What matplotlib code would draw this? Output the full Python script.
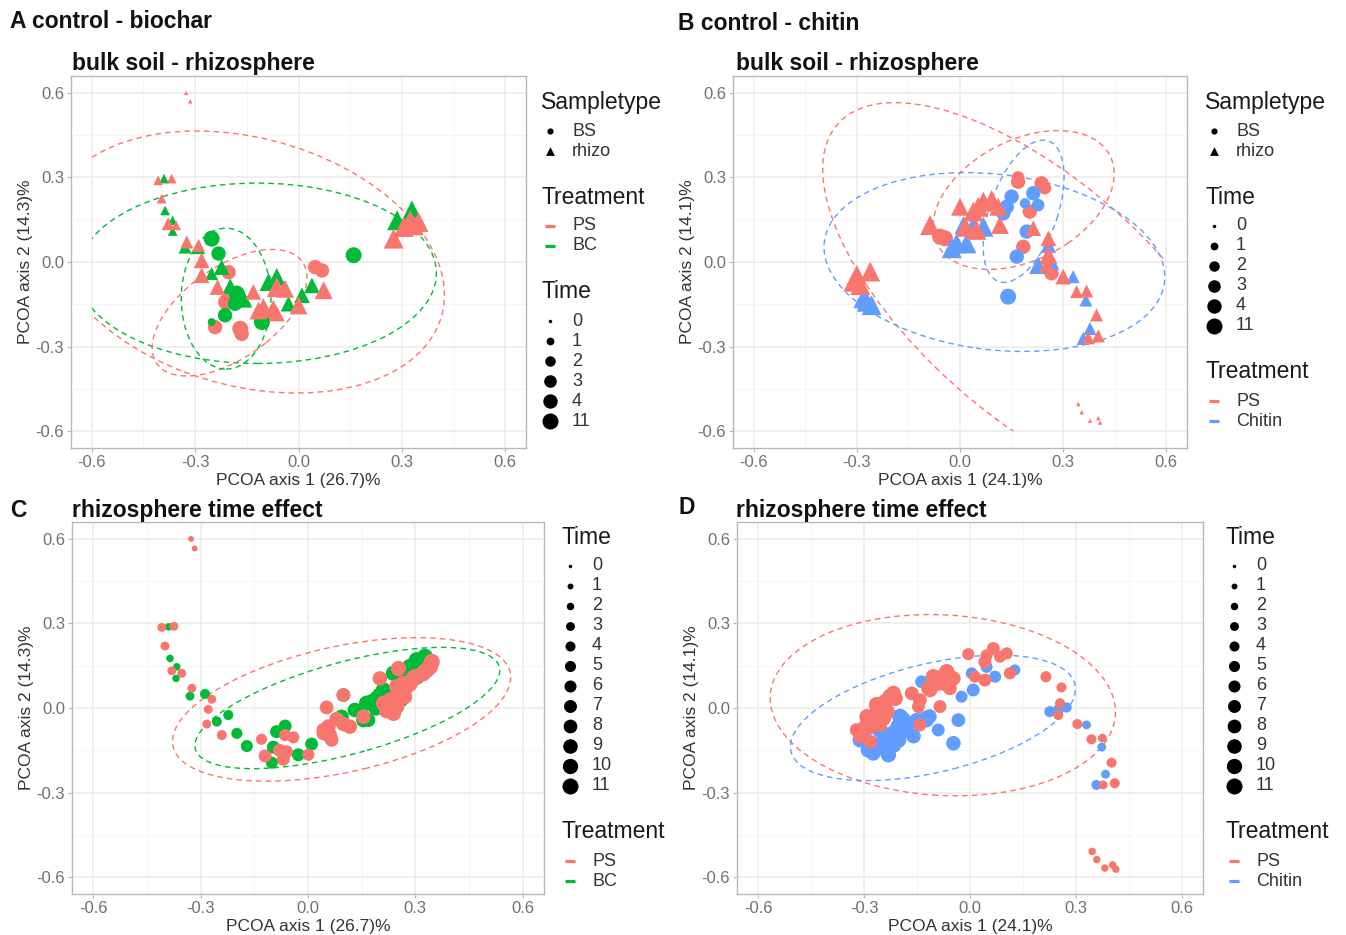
import matplotlib
matplotlib.use('Agg')
import matplotlib.pyplot as plt
from matplotlib.patches import Ellipse, Rectangle

plt.rcParams['font.family'] = ['Liberation Sans', 'DejaVu Sans']

W, H = 1346, 935
RED, GREEN, BLUE = '#F8766D', '#00BA38', '#619CFF'

# ---------------- data ----------------
time_ab = [0, 1, 2, 3, 4, 11]
time_cd = list(range(12))

# A: control - biochar, bulk soil + rhizosphere
a_ps_rh_x = [-0.326, -0.314, -0.407, -0.368, -0.397, -0.378, -0.355, -0.324, -0.290, -0.281, -0.281, -0.235, -0.131,
             -0.063, -0.039, -0.102, -0.116, -0.073, -0.063, 0.000, 0.073, 0.276, 0.305, 0.334, 0.324, 0.348]
a_ps_rh_y = [0.600, 0.570, 0.290, 0.296, 0.225, 0.136, 0.130, 0.071, 0.059, 0.006, -0.047, -0.089, -0.106,
             -0.089, -0.095, -0.160, -0.172, -0.166, -0.183, -0.154, -0.100, 0.083, 0.124, 0.130, 0.148, 0.142]
a_ps_rh_t = [0, 0, 1, 1, 1, 2, 1, 2, 2, 3, 3, 3, 3, 11, 4, 4, 4, 4, 3, 4, 4, 11, 11, 11, 11, 11]

a_bc_rh_x = [-0.390, -0.387, -0.365, -0.365, -0.329, -0.290, -0.223, -0.252, -0.198, -0.087, -0.063, -0.029,
             0.010, 0.039, -0.160, 0.286, 0.329]
a_bc_rh_y = [0.296, 0.183, 0.148, 0.110, 0.053, 0.051, -0.018, -0.041, -0.086, -0.071, -0.053, -0.148,
             -0.118, -0.083, -0.130, 0.148, 0.183]
a_bc_rh_t = [1, 1, 1, 1, 2, 2, 3, 2, 3, 4, 4, 3, 3, 3, 4, 11, 11]

a_ps_bs_x = [-0.203, -0.210, -0.242, -0.169, -0.165, 0.048, 0.068]
a_ps_bs_y = [-0.036, -0.142, -0.231, -0.237, -0.255, -0.018, -0.030]
a_ps_bs_t = [4, 11, 4, 11, 4, 4, 4]

a_bc_bs_x = [-0.252, -0.232, -0.179, -0.174, -0.184, -0.213, -0.252, -0.106, 0.160]
a_bc_bs_y = [0.083, 0.030, -0.112, -0.136, -0.148, -0.189, -0.213, -0.213, 0.024]
a_bc_bs_t = [11, 4, 11, 11, 4, 4, 1, 11, 11]

# B: control - chitin, bulk soil + rhizosphere
b_ps_bs_x = [0.169, 0.237, 0.247, 0.203, -0.044, -0.058, 0.184, 0.266, 0.169]
b_ps_bs_y = [0.285, 0.279, 0.262, 0.179, 0.084, 0.090, 0.054, -0.040, 0.300]
b_ps_bs_t = [4, 4, 3, 4, 11, 11, 4, 4, 3]

b_ch_bs_x = [0.150, 0.213, 0.189, 0.227, 0.136, 0.126, 0.194, 0.165, 0.140]
b_ch_bs_y = [0.232, 0.244, 0.208, 0.202, 0.196, 0.173, 0.108, 0.019, -0.123]
b_ch_bs_t = [4, 4, 2, 3, 4, 4, 4, 4, 11]

b_ps_rh_x = [0.068, 0.092, 0.053, 0.039, 0.111, 0.000, -0.087, 0.015, 0.048, 0.116,
             0.213, 0.257, 0.257, 0.252, 0.300, 0.339, 0.368, 0.397, 0.373, 0.402,
             -0.310, -0.290, -0.261, -0.300, 0.344, 0.354, 0.378, 0.402, 0.407]
b_ps_rh_y = [0.214, 0.220, 0.196, 0.179, 0.196, 0.196, 0.131, 0.125, 0.114, 0.131,
             0.120, 0.084, 0.025, -0.011, -0.052, -0.105, -0.103, -0.188, -0.269, -0.262,
             -0.070, -0.082, -0.034, -0.046, -0.504, -0.533, -0.563, -0.554, -0.570]
b_ps_rh_t = [11, 11, 11, 11, 4, 4, 11, 11, 11, 4, 3, 3, 4, 3, 3, 2, 2, 2, 2, 2,
             11, 11, 11, 11, 0, 0, 0, 0, 0]

b_ch_rh_x = [0.010, 0.068, 0.039, -0.010, -0.024, 0.019, 0.227, 0.266, 0.329, 0.366, 0.378, 0.358,
             -0.271, -0.257, -0.281, 0.257]
b_ch_rh_y = [0.131, 0.125, 0.131, 0.066, 0.049, 0.066, -0.011, 0.001, -0.052, -0.135, -0.236, -0.271,
             -0.141, -0.153, -0.129, 0.060]
b_ch_rh_t = [4, 11, 4, 11, 11, 11, 4, 3, 2, 2, 2, 2, 11, 11, 11, 3]

# C: rhizosphere time effect, control - biochar
c_ps_x = [-0.327, -0.317, -0.409, -0.375, -0.400, -0.381, -0.353, -0.325, -0.269, -0.279,
          -0.283, -0.241, -0.130, -0.064, -0.041, -0.120, -0.069, -0.060, 0.001, 0.052,
          0.099, 0.043, 0.057, 0.066, 0.099, 0.155, 0.229, 0.248, 0.239, 0.248,
          0.266, 0.201, 0.253, 0.341, 0.332, 0.346, 0.276, 0.270, 0.220, 0.300, 0.080, -0.080,
          0.211, 0.229, 0.248, 0.267, 0.285, 0.294, 0.322, 0.043, 0.062, 0.117]
c_ps_y = [0.600, 0.566, 0.286, 0.290, 0.220, 0.132, 0.123, 0.070, 0.031, -0.005,
          -0.057, -0.096, -0.111, -0.096, -0.104, -0.170, -0.182, -0.155, -0.166, 0.002,
          0.046, -0.090, -0.066, -0.113, -0.057, -0.031, 0.028, 0.005, -0.019, 0.076,
          0.087, 0.105, 0.140, 0.146, 0.135, 0.164, 0.076, 0.040, -0.010, 0.110, -0.040, -0.150,
          0.017, -0.007, 0.040, 0.064, 0.087, 0.105, 0.123, -0.078, -0.096, -0.066]
c_ps_t = [1, 1, 3, 3, 3, 3, 3, 3, 3, 3, 3, 4, 5, 6, 6, 7, 7, 7, 6, 8,
          8, 8, 9, 8, 9, 9, 10, 10, 10, 10, 10, 9, 10, 11, 11, 11, 10, 10, 10, 11, 9, 7,
          10, 10, 11, 11, 11, 11, 11, 8, 8, 9]

c_bc_x = [-0.390, -0.386, -0.367, -0.369, -0.330, -0.288, -0.255, -0.223, -0.199, -0.171,
          -0.088, -0.064, -0.097, -0.101, -0.027, 0.010, 0.099, 0.094, 0.131, 0.169,
          0.178, 0.201, 0.211, 0.239, 0.294, 0.304, 0.327, 0.190, 0.285, 0.310, 0.260, 0.060,
          0.164, 0.192, 0.211, 0.267, 0.285, 0.304, 0.155]
c_bc_y = [0.288, 0.176, 0.146, 0.105, 0.042, 0.050, -0.048, -0.025, -0.090, -0.135,
          -0.084, -0.064, -0.139, -0.194, -0.166, -0.128, 0.046, -0.031, -0.007, -0.043,
          0.022, 0.046, 0.064, 0.123, 0.135, 0.111, 0.182, 0.000, 0.095, 0.150, 0.030, -0.100,
          0.017, 0.034, 0.058, 0.123, 0.146, 0.170, -0.043]
c_bc_t = [2, 2, 2, 2, 3, 4, 4, 4, 5, 6, 7, 7, 7, 6, 7, 7, 8, 9, 9, 8,
          10, 10, 10, 10, 11, 11, 11, 10, 11, 11, 10, 8,
          10, 10, 11, 11, 11, 11, 9]

# D: rhizosphere time effect, control - chitin
d_ps_x = [-0.321, -0.311, -0.297, -0.274, -0.264, -0.250, -0.241, -0.226, -0.212, -0.255,
          -0.283, -0.165, -0.142, -0.146, -0.118, -0.094, -0.080, -0.066, -0.047, -0.057,
          -0.085, -0.142, -0.005, 0.042, 0.047, 0.066, 0.085, 0.104, 0.014, 0.042,
          0.113, 0.215, 0.259, 0.255, 0.250, 0.304, 0.344, 0.375, 0.401, 0.377,
          0.410, 0.346, 0.359, 0.382, 0.404, 0.413,
          -0.292, -0.245, -0.236, -0.264, -0.217, -0.104, -0.075, -0.113, -0.283]
d_ps_y = [-0.078, -0.102, -0.066, -0.043, -0.019, 0.005, 0.022, 0.040, 0.034, -0.060,
          -0.119, 0.052, 0.028, 0.005, 0.070, 0.087, 0.111, 0.129, 0.105, 0.070,
          0.005, -0.060, 0.191, 0.164, 0.187, 0.211, 0.182, 0.194, 0.111, 0.099,
          0.123, 0.111, 0.073, 0.017, -0.025, -0.057, -0.111, -0.107, -0.194, -0.273,
          -0.267, -0.509, -0.538, -0.568, -0.557, -0.572,
          -0.031, -0.037, -0.013, 0.011, 0.052, 0.111, 0.087, 0.064, -0.066]
d_ps_t = [8, 7, 9, 9, 10, 10, 10, 11, 10, 9, 8, 8, 8, 7, 9, 10, 9, 10, 9, 8,
          7, 7, 6, 7, 6, 7, 6, 6, 6, 7, 6, 5, 4, 4, 4, 4, 4, 3, 4, 3, 4, 2, 2, 2, 2, 2,
          10, 10, 11, 11, 10, 10, 9, 9, 10]

d_ch_x = [-0.302, -0.288, -0.264, -0.236, -0.217, -0.203, -0.189, -0.179, -0.231, -0.274,
          -0.203, -0.137, -0.127, -0.090, -0.047, -0.033, -0.024, 0.009, 0.005, 0.047,
          0.071, 0.127, 0.226, 0.250, 0.274, 0.330, 0.373, 0.384, 0.358, -0.115, -0.160,
          -0.255, -0.198, -0.179, -0.245, -0.217, -0.151, -0.123, -0.311]
d_ch_y = [-0.090, -0.149, -0.131, -0.113, -0.090, -0.066, -0.043, -0.066, -0.166, -0.161,
          -0.113, 0.093, -0.037, -0.078, -0.125, -0.043, 0.040, 0.064, 0.123, 0.146,
          0.111, 0.135, -0.013, -0.007, 0.002, -0.060, -0.139, -0.235, -0.273, -0.030, -0.100,
          -0.078, -0.031, -0.078, -0.143, -0.131, -0.043, -0.043, -0.113]
d_ch_t = [9, 10, 10, 10, 11, 11, 11, 10, 10, 9, 11, 7, 9, 7, 9, 8, 6, 7, 6, 6,
          6, 5, 5, 5, 4, 3, 3, 3, 4, 9, 9,
          11, 11, 10, 10, 11, 9, 9, 10]

# confidence ellipses: centre, semi-axes, rotation (deg), group colour
a_ell_cx = [-0.15, -0.12, -0.20, -0.21]
a_ell_cy = [0.00, -0.04, -0.18, -0.13]
a_ell_w = [0.60, 0.52, 0.28, 0.13]
a_ell_h = [0.43, 0.32, 0.15, 0.25]
a_ell_ang = [-25, 0, 45, 0]
a_ell_col = [RED, GREEN, RED, GREEN]

b_ell_cx = [0.22, 0.185, 0.10, 0.185]
b_ell_cy = [-0.13, 0.22, 0.00, 0.18]
b_ell_w = [0.85, 0.30, 0.50, 0.26]
b_ell_h = [0.38, 0.20, 0.31, 0.10]
b_ell_ang = [-50, 40, -10, 75]
b_ell_col = [RED, RED, BLUE, BLUE]

c_ell_cx = [0.094, 0.11]
c_ell_cy = [-0.005, 0.0]
c_ell_w = [0.49, 0.45]
c_ell_h = [0.22, 0.16]
c_ell_ang = [17, 20]
c_ell_col = [RED, GREEN]

d_ell_cx = [-0.077, -0.105]
d_ell_cy = [0.01, -0.035]
d_ell_w = [0.49, 0.42]
d_ell_h = [0.32, 0.19]
d_ell_ang = [-5, 18]
d_ell_col = [RED, BLUE]


# ---------------- helpers ----------------
def size_of(t, levels, tri=False):
    # point area grows linearly with the time level (like ggplot's size scale)
    frac = levels.index(t) / (len(levels) - 1)
    d = (3.5 ** 2 + (16.0 ** 2 - 3.5 ** 2) * frac) ** 0.5
    s = (d * 0.72) ** 2
    return s * 1.55 if tri else s


def px_axes(l, t, r, b):
    return fig.add_axes([l / W, 1 - b / H, (r - l) / W, (b - t) / H])


def style(ax, xlab, ylab):
    ax.set_xlim(-0.66, 0.66)
    ax.set_ylim(-0.66, 0.66)
    ticks = [-0.6, -0.3, 0.0, 0.3, 0.6]
    labels = ['-0.6', '-0.3', '0.0', '0.3', '0.6']
    ax.set_xticks(ticks, labels)
    ax.set_yticks(ticks, labels)
    ax.set_xticks([-0.45, -0.15, 0.15, 0.45], minor=True)
    ax.set_yticks([-0.45, -0.15, 0.15, 0.45], minor=True)
    ax.grid(which='major', color='#EBEBEB', lw=1.1)
    ax.grid(which='minor', color='#F5F5F5', lw=0.7)
    ax.set_axisbelow(True)
    for sp in ax.spines.values():
        sp.set_color('#B8B8B8')
        sp.set_linewidth(1.0)
    ax.tick_params(which='major', length=3, color='#B8B8B8', labelsize=12, labelcolor='#707070', pad=2)
    ax.tick_params(which='minor', length=0)
    ax.set_xlabel(xlab, fontsize=12.5, color='#333333', labelpad=2)
    ax.set_ylabel(ylab, fontsize=12.5, color='#333333', labelpad=2)


def points(ax, xs, ys, ts, levels, color, marker):
    sizes = [size_of(t, levels, marker == '^') for t in ts]
    ax.scatter(xs, ys, s=sizes, c=color, marker=marker, linewidths=0, zorder=3)


def ellipses(ax, cx, cy, w, h, ang, cols):
    clip = Rectangle((-0.6, -0.6), 1.2, 1.2, transform=ax.transData)
    for x, y, a, b, t, c in zip(cx, cy, w, h, ang, cols):
        e = Ellipse((x, y), 2 * a, 2 * b, angle=t, fill=False, edgecolor=c,
                    lw=1.0, linestyle=(0, (4, 3)), zorder=2)
        ax.add_patch(e)
        e.set_clip_path(clip)


def legend(x, y, blocks):
    for title, entries in blocks:
        overlay.text(x, y, title, fontsize=16.5, va='center', ha='left', color='#1A1A1A')
        y += 29
        for label, kind, val in entries:
            if kind == 'line':
                overlay.plot([x + 4, x + 14], [y, y], color=val, lw=2.3, solid_capstyle='butt')
            else:
                overlay.scatter([x + 9], [y], s=val, marker=kind, c='black', linewidths=0)
            overlay.text(x + 31, y, label, fontsize=13, va='center', ha='left', color='#333333')
            y += 20
        y += 26


# ---------------- figure ----------------
fig = plt.figure(figsize=(W / 100, H / 100), dpi=100)

axA = px_axes(71, 76, 526, 448)
axB = px_axes(733, 76, 1187, 448)
axC = px_axes(72, 522, 544, 894)
axD = px_axes(737, 522, 1203, 894)

style(axA, 'PCOA axis 1 (26.7)%', 'PCOA axis 2 (14.3)%')
style(axB, 'PCOA axis 1 (24.1)%', 'PCOA axis 2 (14.1)%')
style(axC, 'PCOA axis 1 (26.7)%', 'PCOA axis 2 (14.3)%')
style(axD, 'PCOA axis 1 (24.1)%', 'PCOA axis 2 (14.1)%')

ellipses(axA, a_ell_cx, a_ell_cy, a_ell_w, a_ell_h, a_ell_ang, a_ell_col)
points(axA, a_ps_bs_x, a_ps_bs_y, a_ps_bs_t, time_ab, RED, 'o')
points(axA, a_bc_bs_x, a_bc_bs_y, a_bc_bs_t, time_ab, GREEN, 'o')
points(axA, a_bc_rh_x, a_bc_rh_y, a_bc_rh_t, time_ab, GREEN, '^')
points(axA, a_ps_rh_x, a_ps_rh_y, a_ps_rh_t, time_ab, RED, '^')

ellipses(axB, b_ell_cx, b_ell_cy, b_ell_w, b_ell_h, b_ell_ang, b_ell_col)
points(axB, b_ps_bs_x, b_ps_bs_y, b_ps_bs_t, time_ab, RED, 'o')
points(axB, b_ch_bs_x, b_ch_bs_y, b_ch_bs_t, time_ab, BLUE, 'o')
points(axB, b_ch_rh_x, b_ch_rh_y, b_ch_rh_t, time_ab, BLUE, '^')
points(axB, b_ps_rh_x, b_ps_rh_y, b_ps_rh_t, time_ab, RED, '^')

ellipses(axC, c_ell_cx, c_ell_cy, c_ell_w, c_ell_h, c_ell_ang, c_ell_col)
points(axC, c_bc_x, c_bc_y, c_bc_t, time_cd, GREEN, 'o')
points(axC, c_ps_x, c_ps_y, c_ps_t, time_cd, RED, 'o')

ellipses(axD, d_ell_cx, d_ell_cy, d_ell_w, d_ell_h, d_ell_ang, d_ell_col)
points(axD, d_ch_x, d_ch_y, d_ch_t, time_cd, BLUE, 'o')
points(axD, d_ps_x, d_ps_y, d_ps_t, time_cd, RED, 'o')

overlay = fig.add_axes([0, 0, 1, 1], zorder=10)
overlay.set_xlim(0, W)
overlay.set_ylim(H, 0)
overlay.axis('off')
overlay.patch.set_alpha(0)

bold = dict(fontsize=16.5, fontweight='bold', color='#111111', va='baseline', ha='left')
overlay.text(10, 28, 'A control - biochar', **bold)
overlay.text(72, 70, 'bulk soil - rhizosphere', **bold)
overlay.text(678, 30, 'B control - chitin', **bold)
overlay.text(736, 70, 'bulk soil - rhizosphere', **bold)
overlay.text(10, 517, 'C', **bold)
overlay.text(72, 517, 'rhizosphere time effect', **bold)
overlay.text(678, 514, 'D', **bold)
overlay.text(736, 517, 'rhizosphere time effect', **bold)

shape_entries = [('BS', 'o', 20), ('rhizo', '^', 40)]
time_ab_entries = [(str(t), 'o', size_of(t, time_ab)) for t in time_ab]
time_cd_entries = [(str(t), 'o', size_of(t, time_cd)) for t in time_cd]

legend(541, 102, [('Sampletype', shape_entries),
                  ('Treatment', [('PS', 'line', RED), ('BC', 'line', GREEN)]),
                  ('Time', time_ab_entries)])
legend(1205, 102, [('Sampletype', shape_entries),
                   ('Time', time_ab_entries),
                   ('Treatment', [('PS', 'line', RED), ('Chitin', 'line', BLUE)])])
legend(561, 537, [('Time', time_cd_entries),
                  ('Treatment', [('PS', 'line', RED), ('BC', 'line', GREEN)])])
legend(1225, 537, [('Time', time_cd_entries),
                   ('Treatment', [('PS', 'line', RED), ('Chitin', 'line', BLUE)])])

fig.savefig('out.png', dpi=100, facecolor='white')
